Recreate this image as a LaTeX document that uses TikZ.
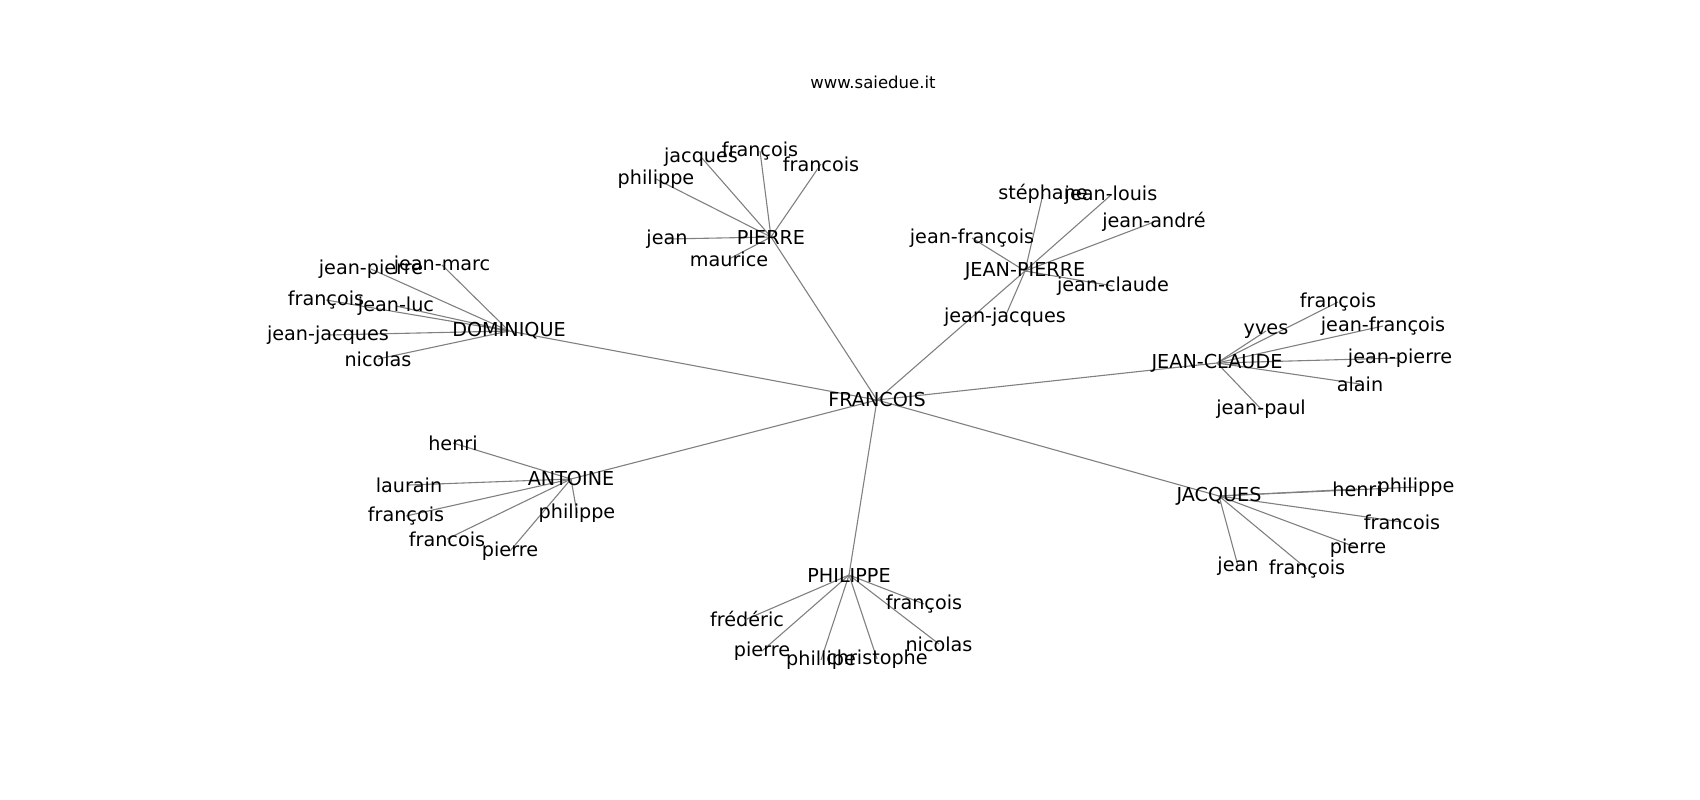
\documentclass[tikz,border=0pt]{standalone}
\usepackage{fontspec}
\setmainfont{DejaVu Sans}
\usetikzlibrary{backgrounds}

\tikzset{
	person/.style = {inner sep = 0pt, font = \fontsize{19.2}{21}\selectfont},
	edge/.style = {draw = gray, line width = 1.1pt}
}

\begin{document}
\begin{tikzpicture}[x = 1pt, y = -1pt]
				\useasboundingbox (0, 0) rectangle (1700, 800);

				\node[inner sep = 0pt, font = \fontsize{16.5}{18}\selectfont](title) at (873, 82){www.saiedue.it};

				\node[person](francois) at (877, 400){FRANCOIS};
				\node[person](pierre) at (771, 237){PIERRE};
				\node[person](jeanpierre) at (1025, 271){JEAN-PIERRE};
				\node[person](dominique) at (509, 331){DOMINIQUE};
				\node[person](jeanclaude) at (1217, 363){JEAN-CLAUDE};
				\node[person](antoine) at (571, 479){ANTOINE};
				\node[person](jacques) at (1219, 496){JACQUES};
				\node[person](philippe) at (849, 575){PHILIPPE};

				\node[person](pi1) at (701, 157){jacques};
				\node[person](pi2) at (760, 151){françois};
				\node[person](pi3) at (821, 164){francois};
				\node[person](pi4) at (656, 179){philippe};
				\node[person](pi5) at (667, 239){jean};
				\node[person](pi6) at (729, 259){maurice};

				\node[person](jp1) at (1043, 194){stéphane};
				\node[person](jp2) at (1111, 195){jean-louis};
				\node[person](jp3) at (1154, 222){jean-andré};
				\node[person](jp4) at (972, 238){jean-françois};
				\node[person](jp5) at (1113, 286){jean-claude};
				\node[person](jp6) at (1005, 317){jean-jacques};

				\node[person](do1) at (371, 269){jean-pierre};
				\node[person](do2) at (442, 265){jean-marc};
				\node[person](do3) at (326, 300){françois};
				\node[person](do4) at (396, 306){jean-luc};
				\node[person](do5) at (328, 335){jean-jacques};
				\node[person](do6) at (378, 359){nicolas};

				\node[person](jc1) at (1338, 302){françois};
				\node[person](jc2) at (1266, 331){yves};
				\node[person](jc3) at (1383, 326){jean-françois};
				\node[person](jc4) at (1400, 358){jean-pierre};
				\node[person](jc5) at (1360, 384){alain};
				\node[person](jc6) at (1261, 409){jean-paul};

				\node[person](an1) at (453, 443){henri};
				\node[person](an2) at (409, 485){laurain};
				\node[person](an3) at (406, 516){françois};
				\node[person](an4) at (447, 539){francois};
				\node[person](an5) at (510, 551){pierre};
				\node[person](an6) at (577, 513){philippe};

				\node[person](ja1) at (1357, 489){henri};
				\node[person](ja2) at (1416, 487){philippe};
				\node[person](ja3) at (1402, 522){francois};
				\node[person](ja4) at (1358, 548){pierre};
				\node[person](ja5) at (1238, 566){jean};
				\node[person](ja6) at (1307, 569){françois};

				\node[person](ph1) at (747, 619){frédéric};
				\node[person](ph2) at (762, 651){pierre};
				\node[person](ph3) at (821, 660){phillipe};
				\node[person](ph4) at (877, 659){christophe};
				\node[person](ph5) at (939, 644){nicolas};
				\node[person](ph6) at (924, 604){françois};

				\begin{scope}[on background layer]
					\foreach \hub in {pierre, jeanpierre, dominique, jeanclaude, antoine, jacques, philippe}
						\draw[edge] (francois.center)--(\hub.center);
					\foreach \hub/\leaf in {pi/pierre, jp/jeanpierre, do/dominique, jc/jeanclaude, an/antoine, ja/jacques, ph/philippe}
						\foreach \i in {1, ..., 6}
							\draw[edge] (\leaf.center)--(\hub\i.center);
				\end{scope}
			\end{tikzpicture}
\end{document}
